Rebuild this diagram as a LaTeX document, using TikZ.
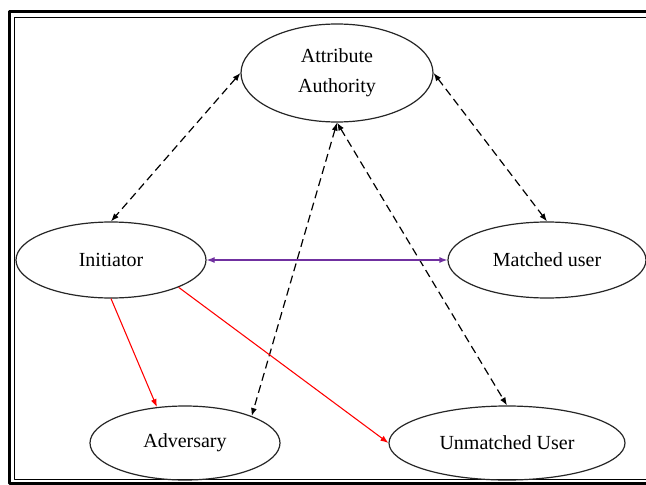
\documentclass[tikz,border=0pt]{standalone}
\usepackage{fontspec}
\setmainfont{Liberation Serif}
\usepackage{tikz}
\usetikzlibrary{arrows.meta,shapes.geometric,calc,positioning}
\definecolor{linkpurple}{RGB}{112,48,160}

\begin{document}
\begin{tikzpicture}[x=0.75pt,y=-0.75pt,line join=round,
	party/.style={ellipse,draw=black!85,line width=0.9pt,inner sep=0pt,
		font=\fontsize{15}{22.5}\selectfont,align=center},
	keylink/.style={{Latex[length=6pt,width=4.5pt]}-{Latex[length=6pt,width=4.5pt]},
		dashed,dash pattern=on 6pt off 3.5pt,line width=0.9pt},
	leak/.style={-{Latex[length=6pt,width=4.5pt]},red,line width=0.8pt},
	chat/.style={{Latex[length=6pt,width=4.5pt]}-{Latex[length=6pt,width=4.5pt]},linkpurple,line width=0.9pt}]
	\clip (0,0) rectangle (646,485);
	\fill[white] (0,0) rectangle (646,485);
	% double frame
	\draw[line width=2.4pt] (9.5,11.5) rectangle (700,483.5);
	\draw[line width=0.8pt] (14.5,17.5) rectangle (690,479.5);
	% parties
	\node[party,minimum width=144pt,minimum height=73.5pt] (aa) at (337,73) {Attribute\\Authority};
	\node[party,minimum width=142.5pt,minimum height=57pt] (init) at (111,260) {Initiator};
	\node[party,minimum width=148.5pt,minimum height=57pt] (match) at (547,260) {Matched user};
	\node[party,minimum width=142.5pt,minimum height=55.5pt] (adv) at (185,443) {Adversary};
	\node[party,minimum width=177pt,minimum height=55.5pt] (unm) at (507,443) {Unmatched User};
	% key exchange with the authority
	\draw[keylink] (aa.west) -- (init.north);
	\draw[keylink] (aa.east) -- (match.north);
	\draw[keylink] (aa.south) -- (adv.22);
	\draw[keylink] (aa.south) -- (unm.north);
	% messages
	\draw[chat] (init.east) -- (match.west);
	\draw[leak] (init.south) -- (adv.128);
	\draw[leak] (init.-22) -- (unm.west);
\end{tikzpicture}
\end{document}
